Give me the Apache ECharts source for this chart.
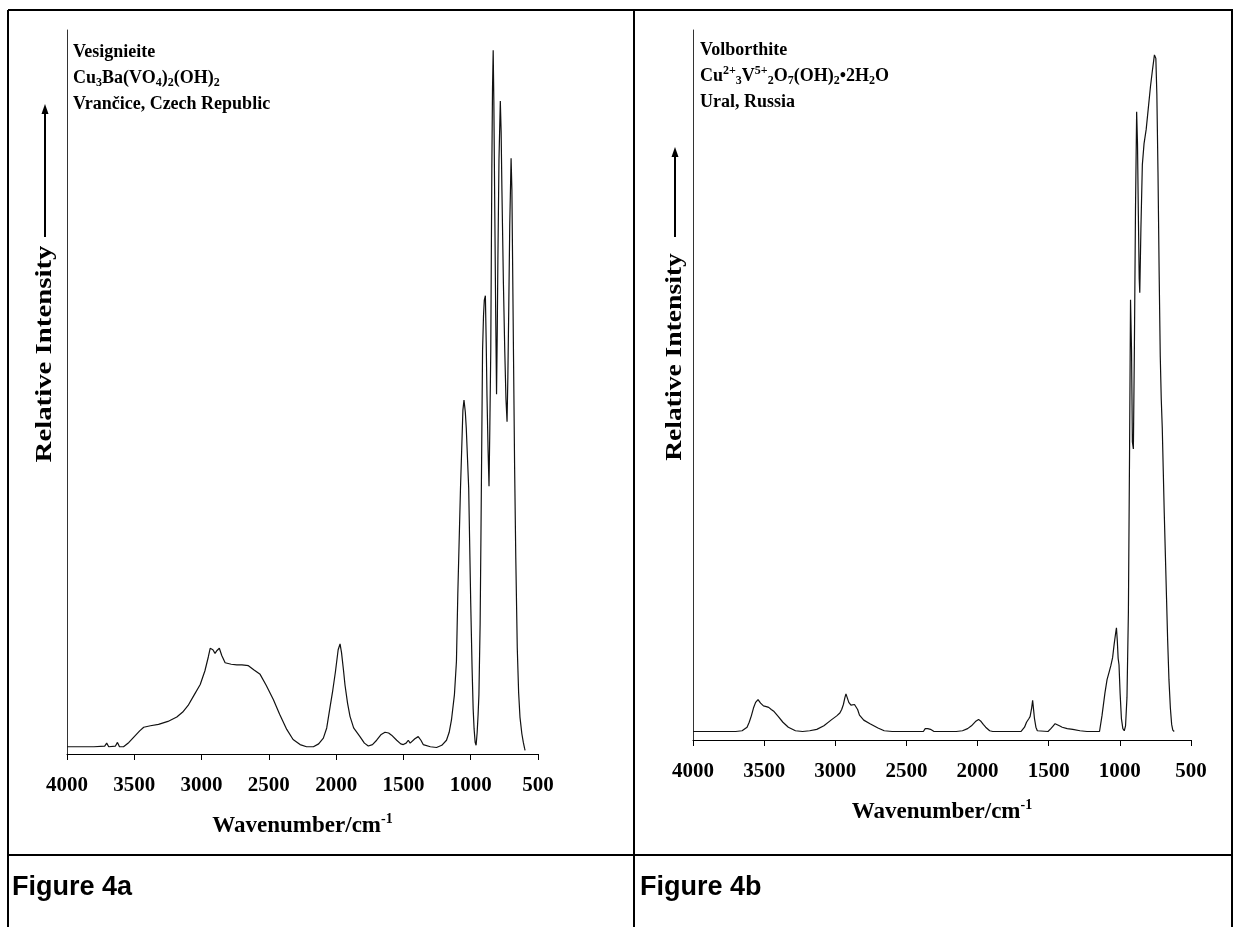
<!DOCTYPE html>
<html>
<head>
<meta charset="utf-8">
<script src="https://cdn.jsdelivr.net/npm/echarts@6/dist/echarts.min.js"></script>
<style>
html,body{margin:0;padding:0;background:#fff;}
#chart{width:1234px;height:927px;}
</style>
</head>
<body>
<div id="chart"></div>
<script>
// ---- Data: Figure 4a (Vesignieite) ----
const vesWavenumber = [4000,3900,3800,3720,3705,3690,3640,3625,3610,3580,3540,3500,3460,3430,3380,3320,3250,3184,3140,3100,3060,3010,2975,2950,2936,2916,2900,2885,2868,2850,2825,2780,2738,2700,2652,2610,2565,2520,2466,2420,2367,2320,2268,2220,2169,2130,2095,2070,2045,2025,2005,1985,1971,1960,1945,1934,1915,1897,1870,1823,1790,1761,1730,1699,1665,1637,1610,1588,1550,1520,1501,1480,1464,1450,1439,1415,1390,1370,1353,1300,1254,1215,1180,1160,1143,1121,1106,1096,1076,1058,1050,1040,1033,1015,1000,990,982,975,967,960,952,945,939,930,924,918,912,905,899,891,885,879,871,864,858,851,843,838,833,828,821,814,808,803,798,790,780,774,768,757,747,738,730,724,717,710,700,694,689,682,674,665,654,644,634,620,609,600,596];
const vesIntensity  = [1.0,1.0,1.0,1.1,1.5,1.0,1.1,1.6,1.0,1.0,1.6,2.4,3.2,3.7,3.9,4.1,4.5,5.1,5.8,6.7,8.0,9.6,11.5,13.4,14.6,14.4,13.9,14.3,14.6,13.6,12.6,12.4,12.3,12.3,12.2,11.6,11.0,9.5,7.5,5.5,3.4,2.0,1.3,1.0,1.0,1.4,2.2,3.6,6.5,8.8,11.4,14.4,15.2,14.0,11.5,9.5,7.0,5.2,3.6,2.4,1.5,1.1,1.3,1.9,2.7,3.0,2.9,2.6,1.9,1.4,1.3,1.5,1.9,1.5,1.5,2.1,2.4,1.9,1.3,1.0,0.9,1.2,1.9,3.0,4.7,8.2,12.8,22,36.7,47.5,48.9,47.2,45,36.7,20.9,12,6.3,3.5,1.6,1.2,3.0,5.5,8.2,18,30,43,55.7,60.5,62.7,63.3,57,49.4,42,37,45,55.7,81,92,97.2,90,74.7,60,49.7,58,68.4,82,90.2,86,77.8,65,55.7,49,45.9,52,62,73,82.3,78,68.4,55,39.9,27,14.6,8.5,5.1,2.8,1.6,0.8,0.5];

// ---- Data: Figure 4b (Volborthite) ----
const volWavenumber = [4000,3800,3700,3655,3620,3605,3590,3575,3560,3543,3525,3505,3485,3468,3450,3430,3400,3368,3330,3280,3230,3180,3130,3080,3030,2990,2968,2955,2943,2932,2925,2915,2905,2890,2880,2865,2855,2843,2830,2800,2756,2700,2656,2600,2400,2381,2368,2350,2331,2306,2150,2106,2070,2043,2015,1993,1975,1960,1943,1915,1893,1694,1670,1656,1640,1631,1620,1613,1606,1600,1590,1580,1505,1485,1468,1455,1443,1425,1405,1370,1331,1280,1231,1143,1125,1105,1090,1075,1063,1051,1040,1030,1024,1018,1012,1006,998,989,979,969,960,950,940,932,925,918,912,905,898,890,882,876,870,864,860,852,842,830,815,800,785,770,757,747,740,732,724,716,709,702,695,688,680,672,664,655,645,636,628,618,601];
const volIntensity  = [1.2,1.2,1.2,1.3,1.8,2.5,3.4,4.5,5.3,5.7,5.2,4.8,4.7,4.6,4.3,4.0,3.3,2.5,1.8,1.3,1.2,1.3,1.5,2.0,2.8,3.4,3.8,4.3,5.0,6.0,6.5,5.9,5.3,4.9,4.8,5.0,5.05,4.3,3.5,2.8,2.3,1.7,1.3,1.2,1.2,1.2,1.6,1.6,1.5,1.2,1.2,1.3,1.6,2.0,2.6,2.9,2.6,2.2,1.8,1.3,1.2,1.2,1.8,2.5,3.0,3.3,4.5,5.6,4.2,3.0,1.8,1.3,1.2,1.6,2.0,2.3,2.3,2.0,1.8,1.6,1.5,1.3,1.2,1.2,3.5,6.6,8.5,9.6,10.5,11.6,13.5,15.0,15.8,14.0,11.5,10.6,6.5,3.0,1.6,1.3,2,6,18,40,62,55,42,41,55,75,88.5,84,74,65,63,72,81,84,86,89,92,94.5,96.5,96,91,80,66,54,48,44,38,32,26,20,14,8.5,4.5,2.2,1.4,1.2];

const xTicks = {min: 500, max: 4000, step: 500};

const serif = 'Liberation Serif, Times New Roman, serif';
function pairs(xs, ys){ return xs.map((x,i)=>[x, ys[i]]); }

const richLabel = {
  b:   {fontFamily: serif, fontWeight: 'bold', fontSize: 18, lineHeight: 22, fill: '#000', color:'#000'},
  sub: {fontFamily: serif, fontWeight: 'bold', fontSize: 12, lineHeight: 8, verticalAlign: 'bottom', fill:'#000', color:'#000'},
  sup: {fontFamily: serif, fontWeight: 'bold', fontSize: 12, lineHeight: 8, verticalAlign: 'top', fill:'#000', color:'#000'}
};

const axisNameRich = {
  t:   {fontFamily: serif, fontWeight: 'bold', fontSize: 23, lineHeight: 28, color: '#000'},
  sup: {fontFamily: serif, fontWeight: 'bold', fontSize: 14, lineHeight: 10, verticalAlign: 'top', color: '#000'}
};

function xAxisDef(grid){
  return {
    gridIndex: grid, type: 'value', inverse: true,
    min: xTicks.min, max: xTicks.max, interval: xTicks.step,
    axisLine: {show: true, onZero: false, lineStyle: {color: '#000', width: 1}},
    axisTick: {show: true, inside: false, length: 6, lineStyle: {color: '#000'}},
    splitLine: {show: false},
    axisLabel: {color: '#000', fontFamily: serif, fontWeight: 'bold', fontSize: 21, margin: 21,
                showMinLabel: true, showMaxLabel: true, formatter: v => String(v)},
    name: '{t|Wavenumber/cm}{sup|-1}', nameLocation: 'middle', nameGap: 58,
    nameTextStyle: {rich: axisNameRich}
  };
}
function yAxisDef(grid){
  return {
    gridIndex: grid, type: 'value', min: 0, max: 100,
    axisLine: {show: true, lineStyle: {color: '#333', width: 1}},
    axisTick: {show: false}, axisLabel: {show: false}, splitLine: {show: false}
  };
}

function richText(x, y, text){
  return {type: 'text', x: x, y: y, style: {text: text, rich: richLabel, fill:'#000', font: 'bold 18px ' + serif, verticalAlign: 'middle'}};
}

const border = {stroke: '#000', lineWidth: 2};
const chart = echarts.init(document.getElementById('chart'), null, {renderer: 'canvas'});
chart.setOption({
  animation: false,
  backgroundColor: '#fff',
  grid: [
    {left: 67, right: 696, top: 30, bottom: 173},
    {left: 693, right: 43, top: 30, bottom: 187}
  ],
  xAxis: [xAxisDef(0), xAxisDef(1)],
  yAxis: [yAxisDef(0), yAxisDef(1)],
  series: [
    {type: 'line', xAxisIndex: 0, yAxisIndex: 0, data: pairs(vesWavenumber, vesIntensity), showSymbol: false, lineStyle: {color: '#111', width: 1.2}},
    {type: 'line', xAxisIndex: 1, yAxisIndex: 1, data: pairs(volWavenumber, volIntensity), showSymbol: false, lineStyle: {color: '#111', width: 1.2}}
  ],
  graphic: [
    // table borders
    {type: 'line', shape: {x1: 8, y1: 10, x2: 1233, y2: 10}, style: border},
    {type: 'line', shape: {x1: 8, y1: 10, x2: 8, y2: 927}, style: border},
    {type: 'line', shape: {x1: 1232, y1: 10, x2: 1232, y2: 927}, style: border},
    {type: 'line', shape: {x1: 634, y1: 10, x2: 634, y2: 927}, style: border},
    {type: 'line', shape: {x1: 8, y1: 855, x2: 1233, y2: 855}, style: border},
    // captions
    {type: 'text', x: 12, y: 888, style: {text: 'Figure 4a', font: 'bold 27px Liberation Sans, Arial, sans-serif', fill: '#000', verticalAlign: 'middle'}},
    {type: 'text', x: 640, y: 888, style: {text: 'Figure 4b', font: 'bold 27px Liberation Sans, Arial, sans-serif', fill: '#000', verticalAlign: 'middle'}},
    // panel a labels
    richText(73, 52, '{b|Vesignieite}'),
    richText(73, 78, '{b|Cu}{sub|3}{b|Ba(VO}{sub|4}{b|)}{sub|2}{b|(OH)}{sub|2}'),
    richText(73, 104, '{b|Vrančice, Czech Republic}'),
    // panel b labels
    richText(700, 50, '{b|Volborthite}'),
    richText(700, 76, '{b|Cu}{sup|2+}{sub|3}{b|V}{sup|5+}{sub|2}{b|O}{sub|7}{b|(OH)}{sub|2}{b|•2H}{sub|2}{b|O}'),
    richText(700, 102, '{b|Ural, Russia}'),
    // y axis titles
    {type: 'text', x: 45, y: 354, rotation: Math.PI/2, scaleX: 1.2, style: {text: 'Relative Intensity', font: 'bold 24px ' + serif, fill: '#000', align: 'center', verticalAlign: 'middle'}},
    {type: 'line', shape: {x1: 45, y1: 237, x2: 45, y2: 112}, style: {stroke: '#000', lineWidth: 2}},
    {type: 'polygon', shape: {points: [[45, 104], [41.5, 114], [48.5, 114]]}, style: {fill: '#000'}},
    {type: 'text', x: 675, y: 357, rotation: Math.PI/2, scaleX: 1.15, style: {text: 'Relative Intensity', font: 'bold 24px ' + serif, fill: '#000', align: 'center', verticalAlign: 'middle'}},
    {type: 'line', shape: {x1: 675, y1: 237, x2: 675, y2: 155}, style: {stroke: '#000', lineWidth: 2}},
    {type: 'polygon', shape: {points: [[675, 147], [671.5, 157], [678.5, 157]]}, style: {fill: '#000'}}
  ]
});
</script>
</body>
</html>
